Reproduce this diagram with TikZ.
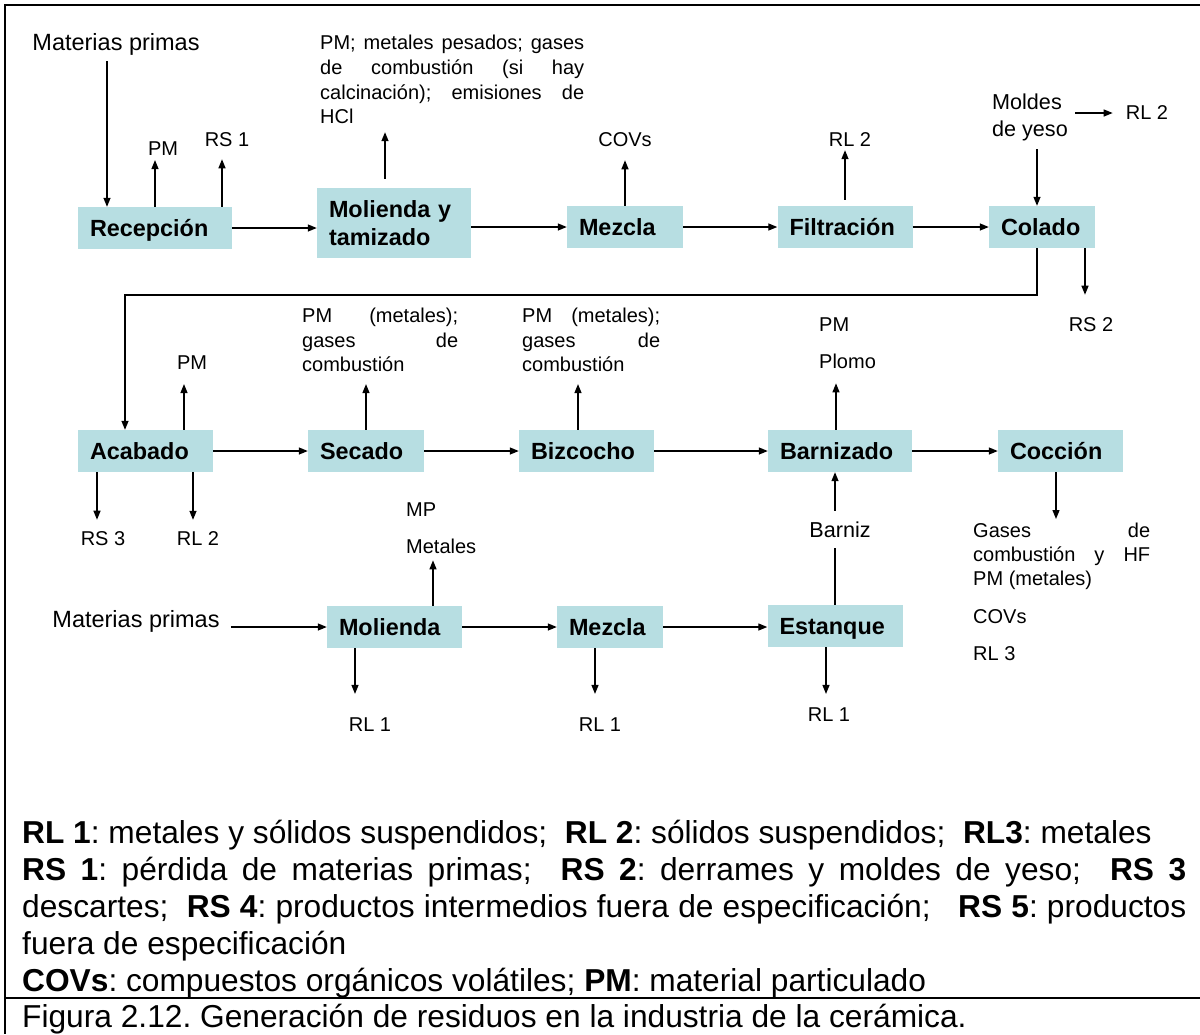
\documentclass[tikz,border=0pt]{standalone}
\usepackage{fontspec}
\setmainfont{Liberation Sans}
\usetikzlibrary{arrows.meta, calc}
\tolerance=9999
\hyphenpenalty=10000
\frenchspacing

\begin{document}
\begin{tikzpicture}[x=1pt, y=-1pt,
    cell/.style={fill=boxC, inner xsep=12pt, inner ysep=0pt, minimum height=42pt,
                 align=left, font=\fontsize{23.4}{28}\selectfont\bfseries},
    box/.style={cell, text height=17pt, text depth=0pt},
    lbl/.style={inner sep=0pt, font=\fontsize{20}{24.5}\selectfont},
    mid/.style={inner sep=0pt, align=left, font=\fontsize{21.6}{27}\selectfont},
    big/.style={inner sep=0pt, font=\fontsize{23.5}{28}\selectfont},
    blk/.style={lbl, anchor=north west, align=justify},
    stack/.style={lbl, anchor=north west, align=left, font=\fontsize{20}{37}\selectfont},
    flow/.style={-{Triangle[length=9pt,width=7pt]}, line width=1.3pt},
    legend/.style={inner sep=0pt, anchor=north west, text width=1164pt, align=justify,
                   font=\fontsize{31.7}{37}\selectfont},
]
\useasboundingbox (0,0) rectangle (1200,1034);

% Color definitions
\definecolor{boxC}{RGB}{183,222,226}

% Frame
\draw[line width=2pt] (1200,5) -- (5,5) -- (5,1034);
\draw[line width=2pt] (5,998) -- (1200,998);

% Row 1
\node[box, text width=130pt] (recep) at (155,228) {Recepción};
\node[cell, text width=130pt, minimum height=70pt] (moltam) at (394,223) {Molienda y\\tamizado};
\node[box, text width=92pt] (mez1) at (625,227) {Mezcla};
\node[box, text width=111pt] (filt) at (845,227) {Filtración};
\node[box, text width=82pt] (colado) at (1042,227) {Colado};

\node[big] (mp1) at (116,44) {Materias primas};
\node[lbl] (pm1) at (163,149) {PM};
\node[lbl] (rs1) at (227,140) {RS 1};
\node[blk, text width=264pt, font=\fontsize{20}{24.7}\selectfont] (emis) at (320,35)
  {PM; metales pesados; gases\linebreak de combustión (si hay\linebreak calcinación); emisiones de\linebreak HCl};
\node[lbl] (covs1) at (625,140) {COVs};
\node[lbl] (rl2a) at (850,140) {RL 2};
\node[mid] (moldes) at (1030,117.5) {Moldes\\de yeso};
\node[lbl] (rl2b) at (1147,113) {RL 2};
\node[lbl] (rs2) at (1091,325) {RS 2};

% Row 2
\node[box, text width=111pt] (acab) at (145.5,451) {Acabado};
\node[box, text width=92pt] (secado) at (366,451) {Secado};
\node[box, text width=111pt] (bizc) at (586.5,451) {Bizcocho};
\node[box, text width=120pt] (barn) at (840,451) {Barnizado};
\node[box, text width=101pt] (cocc) at (1060.5,451) {Cocción};

\node[lbl] (pm2) at (192,363) {PM};
\node[lbl] (rs3) at (103,539) {RS 3};
\node[lbl] (rl2c) at (198,539) {RL 2};
\node[blk, text width=156pt] (gas1) at (302,308) {PM (metales);\linebreak gases de\linebreak combustión};
\node[blk, text width=138pt] (gas2) at (522,308) {PM (metales);\linebreak gases de\linebreak combustión};
\node[stack] (plomo) at (819,318) {PM\\Plomo};
\node[mid] (barniz) at (840,530) {Barniz};
\node[blk, text width=177pt, font=\fontsize{20}{24}\selectfont] (gases) at (973,523)
  {Gases de\linebreak combustión y HF\linebreak PM (metales)};
\node[lbl, anchor=north west] (covs2) at (973,609) {COVs};
\node[lbl, anchor=north west] (rl3) at (973,646) {RL 3};

% Row 3
\node[box, text width=111pt] (mol) at (394.5,627) {Molienda};
\node[box, text width=82pt] (mez2) at (610,627) {Mezcla};
\node[box, text width=111pt] (est) at (835,626) {Estanque};

\node[big] (mp2) at (136,621) {Materias primas};
\node[stack] (metal) at (406,503) {MP\\Metales};
\node[lbl] (rl1a) at (370,725) {RL 1};
\node[lbl] (rl1b) at (600,725) {RL 1};
\node[lbl] (rl1c) at (829,715) {RL 1};

% Main flow
\draw[flow] (recep.east) -- (recep.east -| moltam.west);
\draw[flow] (moltam.east |- mez1) -- (mez1.west);
\foreach \a/\b in {mez1/filt, filt/colado, acab/secado, secado/bizc, bizc/barn,
                   barn/cocc, mol/mez2} {
  \draw[flow] (\a) -- (\b);
}
\draw[flow] (mez2.east) -- (mez2.east -| est.west);
\coordinate (bend) at (125,295);
\draw[flow] ([xshift=-5pt]colado.south) |- (bend) -- (bend |- acab.north);
\draw[flow, shorten <=11pt] (mp2.east |- mol.west) -- (mol.west);

% Inputs and residues, row 1
\draw[flow, shorten <=6pt] ([xshift=-9pt]mp1.south) -- ([xshift=-48pt]recep.north);
\draw[flow, shorten >=4pt] (recep.north) -- (recep.north |- pm1.south);
\draw[flow, shorten >=12pt] ([xshift=67pt]recep.north) -- ([xshift=67pt]recep.north |- rs1.south);
\draw[flow, shorten <=9pt, shorten >=8pt] ([xshift=-9pt]moltam.north) -- ([xshift=-9pt]moltam.north |- emis.south);
\draw[flow, shorten >=13pt] (mez1.north) -- (mez1.north |- covs1.south);
\draw[flow, shorten <=6pt, shorten >=3pt] (filt.north) -- (filt.north |- rl2a.south);
\draw[flow, shorten <=8pt] ([xshift=-5pt]colado.north |- moldes.south) -- ([xshift=-5pt]colado.north);
\draw[flow, shorten <=7pt, shorten >=13pt] (moldes.east |- rl2b) -- (rl2b.west);
\draw[flow, shorten >=23pt] ([xshift=43pt]colado.south) -- ([xshift=43pt]colado.south |- rs2.north);

% Inputs and residues, row 2
\draw[flow, shorten >=14pt] ([xshift=38.5pt]acab.north) -- ([xshift=38.5pt]acab.north |- pm2.south);
\draw[flow, shorten >=12pt] ([xshift=-48.5pt]acab.south) -- ([xshift=-48.5pt]acab.south |- rs3.north);
\draw[flow, shorten >=12pt] ([xshift=47.5pt]acab.south) -- ([xshift=47.5pt]acab.south |- rl2c.north);
\draw[flow, shorten >=12pt] (secado.north) -- (secado.north |- gas1.south);
\draw[flow, shorten >=12pt] ([xshift=-8.5pt]bizc.north) -- ([xshift=-8.5pt]bizc.north |- gas2.south);
\draw[flow, shorten >=14pt] ([xshift=-4pt]barn.north) -- ([xshift=-4pt]barn.north |- plomo.south);
\draw[line width=1.3pt, shorten >=10pt] (est.north) -- (est.north |- barniz.south);
\draw[flow, shorten <=11pt] (est.north |- barniz.north) -- (est.north |- barn.south);
\draw[flow, shorten >=4pt] ([xshift=-4.5pt]cocc.south) -- ([xshift=-4.5pt]cocc.south |- gases.north);

% Inputs and residues, row 3
\draw[flow, shorten >=6pt] ([xshift=38.5pt]mol.north) -- ([xshift=38.5pt]mol.north |- metal.south);
\draw[flow, shorten >=24pt] ([xshift=-39.5pt]mol.south) -- ([xshift=-39.5pt]mol.south |- rl1a.north);
\draw[flow, shorten >=24pt] ([xshift=-15pt]mez2.south) -- ([xshift=-15pt]mez2.south |- rl1b.north);
\draw[flow, shorten >=14pt] ([xshift=-9pt]est.south) -- ([xshift=-9pt]est.south |- rl1c.north);

% Legend and caption
\node[legend] (key) at (22,820)
  {\textbf{RL 1}: metales y sólidos suspendidos;\ \ \textbf{RL 2}: sólidos suspendidos;\ \ \textbf{RL3}: metales\par
   \textbf{RS 1}: pérdida de materias primas;\ \ \textbf{RS 2}: derrames y moldes de yeso;\ \ \textbf{RS 3}\linebreak
   descartes;\ \ \textbf{RS 4}: productos intermedios fuera de especificación;\ \ \ \textbf{RS 5}: productos\linebreak
   fuera de especificación\par
   \textbf{COVs}: compuestos orgánicos volátiles; \textbf{PM}: material particulado};
\node[anchor=base west, inner sep=0pt, font=\fontsize{31.7}{37}\selectfont] (cap) at (22,1027)
  {Figura 2.12. Generación de residuos en la industria de la cerámica.};

\end{tikzpicture}
\end{document}
